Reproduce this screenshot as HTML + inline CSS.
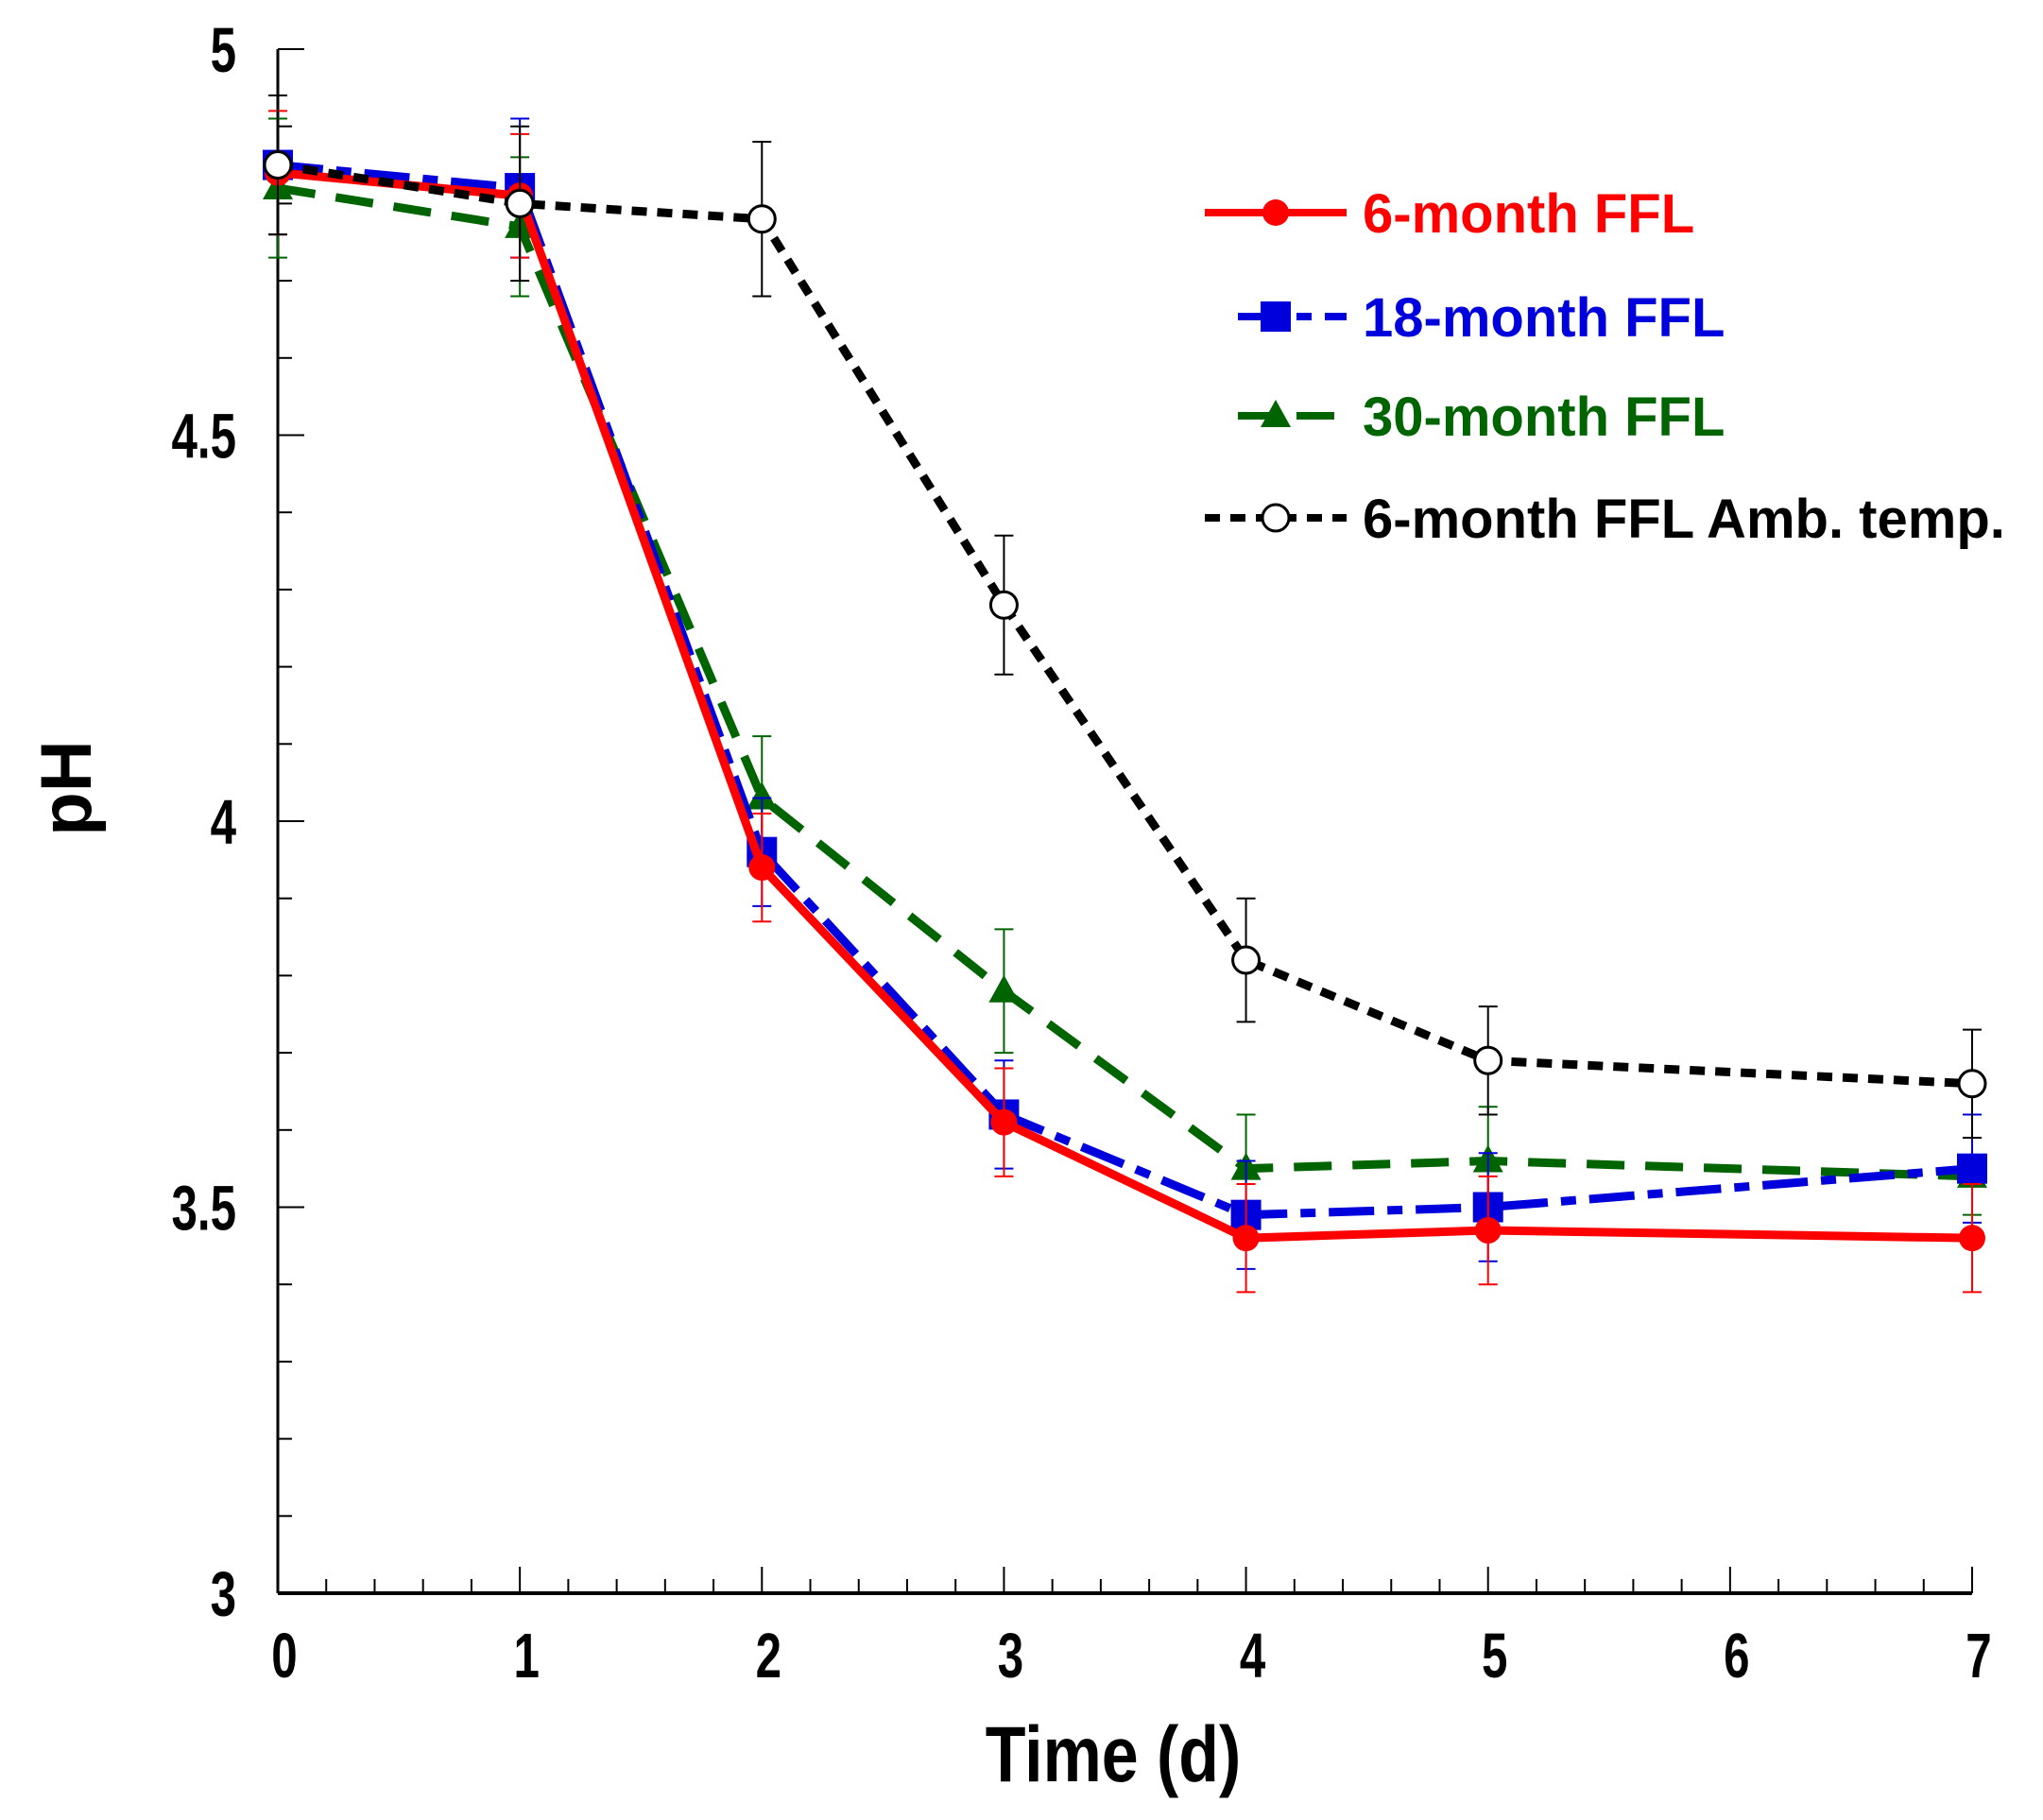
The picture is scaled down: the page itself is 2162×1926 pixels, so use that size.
<!DOCTYPE html>
<html><head><meta charset="utf-8"><style>
html,body{margin:0;padding:0;background:#fff}
svg{display:block}
text{font-family:"Liberation Sans",Arial,sans-serif;font-weight:bold}
</style></head><body>
<svg id="chart" width="2162" height="1926" viewBox="0 0 2162 1926">
<g id="axes"></g>
<g id="series"></g>
<g id="legend"></g>
<text transform="translate(1178,1885) scale(0.92,1.1)" font-size="76" text-anchor="middle">Time (d)</text>
<text transform="translate(96,834) rotate(-90)" font-size="76" text-anchor="middle">pH</text>
</svg>
<script>
const days = [0,1,2,3,4,5,7];
const red = [4.84,4.81,3.94,3.61,3.46,3.47,3.46];
const redErr = [0.08,0.08,0.07,0.07,0.07,0.07,0.07];
const blue = [4.85,4.82,3.96,3.62,3.49,3.50,3.55];
const blueErr = [0.09,0.09,0.07,0.07,0.07,0.07,0.07];
const green = [4.82,4.77,4.03,3.78,3.55,3.56,3.54];
const greenErr = [0.09,0.09,0.08,0.08,0.07,0.07,0.05];
const black = [4.85,4.80,4.78,4.28,3.82,3.69,3.66];
const blackErr = [0.09,0.10,0.10,0.09,0.08,0.07,0.07];
const xTicks = [0,1,2,3,4,5,6,7];
const yTicks = [3,3.5,4,4.5,5];
const yTickLabels = ["3","3.5","4","4.5","5"];
const legendLabels = ["6-month FFL","18-month FFL","30-month FFL","6-month FFL Amb. temp."];

const NS="http://www.w3.org/2000/svg";
const X0=294,X1=2087,Y0=1686,Y1=52;
function xs(v){return X0+(v-0)/(7-0)*(X1-X0);}
function ys(v){return Y0-(v-3)/(5-3)*(Y0-Y1);}
function mk(tag,attrs,parent){const e=document.createElementNS(NS,tag);for(const k in attrs)e.setAttribute(k,attrs[k]);parent.appendChild(e);return e;}
const axes=document.getElementById('axes');
let e=mk('line',{x1:X0,y1:Y1,x2:X0,y2:Y0,stroke:'#000','stroke-width':3},axes);


e=mk('line',{x1:X0,y1:Y0,x2:X1,y2:Y0,stroke:'#000','stroke-width':4},axes);


for(let i=0;i<=35;i++){const v=i*0.2;const maj=(i%5===0);
 e=mk('line',{x1:xs(v),y1:Y0,x2:xs(v),y2:Y0-(maj?28:15),stroke:'#000','stroke-width':2},axes);
 
 }
for(let i=0;i<=20;i++){const v=3+i*0.1;const maj=(i%5===0);
 e=mk('line',{x1:X0,y1:ys(v),x2:X0+(maj?28:15),y2:ys(v),stroke:'#000','stroke-width':2},axes);
 
 }
xTicks.forEach(v=>{e=mk('text',{transform:`translate(${xs(v)+7},1775) scale(0.85,1.15)`,'font-size':58,'text-anchor':'middle'},axes);e.textContent=v;
 
 });
yTicks.forEach((v,i)=>{e=mk('text',{transform:`translate(250,${ys(v)+24}) scale(0.85,1.15)`,'font-size':58,'text-anchor':'end'},axes);e.textContent=yTickLabels[i];
 
 });

const ser=document.getElementById('series');
const defs=[
 {vals:green,err:greenErr,color:'#006400',dash:'40,22',w:9,m:'tri',name:'30-month'},
 {vals:blue,err:blueErr,color:'#0000dd',dash:'48,14,16,14',w:9,m:'sq',name:'18-month'},
 {vals:red,err:redErr,color:'#ff0000',dash:'',w:9,m:'circ',name:'6-month'},
 {vals:black,err:blackErr,color:'#000',dash:'16,11',w:9,m:'open',name:'6-month-amb'}];
function marker(type,x,y,color,g){
 if(type==='circ')return mk('circle',{cx:x,cy:y,r:14,fill:color},g);
 if(type==='sq')return mk('rect',{x:x-16,y:y-16,width:32,height:32,fill:color},g);
 if(type==='tri')return mk('polygon',{points:`${x},${y-17} ${x-16},${y+12} ${x+16},${y+12}`,fill:color},g);
 return mk('circle',{cx:x,cy:y,r:14,fill:'#fff',stroke:'#000','stroke-width':3},g);}
defs.forEach(d=>{
 const g=mk('g',{},ser);
 
 
 days.forEach((t,i)=>{const x=xs(t);
  const eb=mk('g',{stroke:d.color,'stroke-width':2},g);
  
  
  mk('line',{x1:x,y1:ys(d.vals[i]+d.err[i]),x2:x,y2:ys(d.vals[i]-d.err[i])},eb);
  mk('line',{x1:x-10,y1:ys(d.vals[i]+d.err[i]),x2:x+10,y2:ys(d.vals[i]+d.err[i])},eb);
  mk('line',{x1:x-10,y1:ys(d.vals[i]-d.err[i]),x2:x+10,y2:ys(d.vals[i]-d.err[i])},eb);});
 const pts=days.map((t,i)=>xs(t)+','+ys(d.vals[i])).join(' ');
 const pl=mk('polyline',{points:pts,fill:'none',stroke:d.color,'stroke-width':d.w,'stroke-dasharray':d.dash},g);
 
 
 days.forEach((t,i)=>{const m=marker(d.m,xs(t),ys(d.vals[i]),d.color,g);
  
  });
});
const leg=document.getElementById('legend');
const legDefs=[
 {color:'#ff0000',dash:'',m:'circ',x0:1275,y:225},
 {color:'#0000dd',dash:'48,14,16,14',m:'sq',x0:1310,y:335},
 {color:'#006400',dash:'40,22',m:'tri',x0:1310,y:440},
 {color:'#000',dash:'16,11',m:'open',x0:1275,y:548}];
legDefs.forEach((d,i)=>{
 const g=mk('g',{},leg);
 
 
 mk('line',{x1:d.x0,y1:d.y,x2:1425,y2:d.y,stroke:d.color,'stroke-width':8,'stroke-dasharray':d.dash},g);
 marker(d.m,1350,d.y,d.color,g);
 const t=mk('text',{x:1442,y:d.y+21,'font-size':58,fill:d.color},g);
 t.textContent=legendLabels[i];
});
</script>
</body></html>
